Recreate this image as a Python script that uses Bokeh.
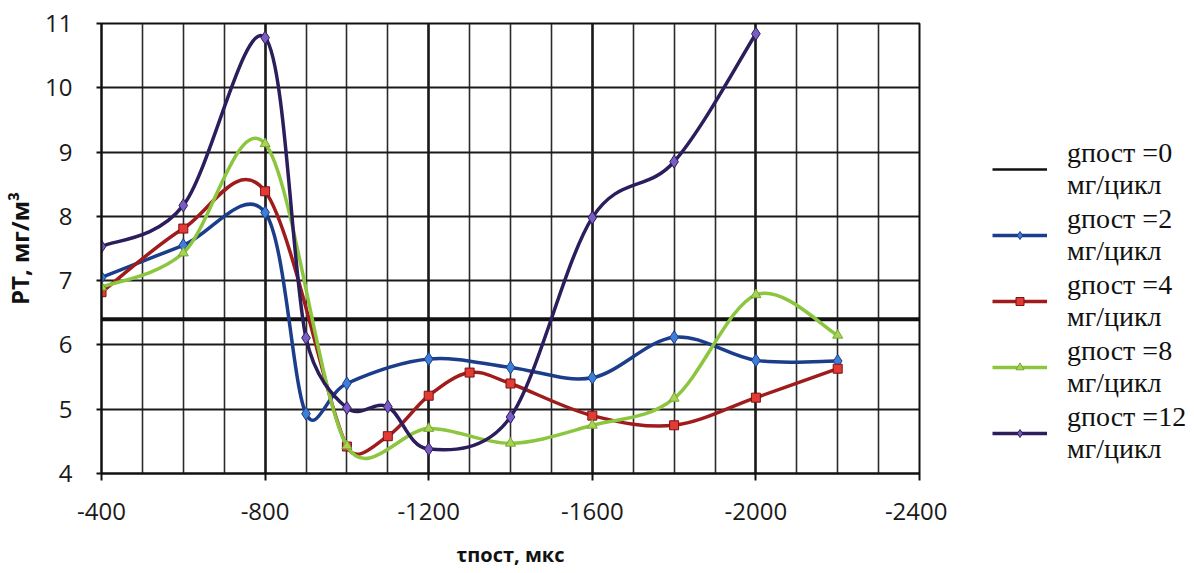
import numpy as np
from bokeh.plotting import figure
from bokeh.layouts import row
from bokeh.models import Range1d, FixedTicker, Legend, LegendItem, ColumnDataSource
from bokeh.embed import file_html
from bokeh.resources import INLINE

# ---- data ----
x_g0 = [-400, -2400]
y_g0 = [6.4, 6.4]

x_g2 = [-400, -600, -800, -900, -1000, -1200, -1400, -1600, -1800, -2000, -2200]
y_g2 = [7.05, 7.55, 8.06, 4.93, 5.40, 5.78, 5.65, 5.49, 6.12, 5.76, 5.75]

x_g4 = [-400, -600, -800, -1000, -1100, -1200, -1300, -1400, -1600, -1800, -2000, -2200]
y_g4 = [6.82, 7.81, 8.39, 4.42, 4.58, 5.21, 5.57, 5.40, 4.90, 4.75, 5.18, 5.63]

x_g8 = [-400, -600, -800, -1000, -1200, -1400, -1600, -1800, -2000, -2200]
y_g8 = [6.90, 7.43, 9.13, 4.43, 4.70, 4.47, 4.75, 5.17, 6.78, 6.15]

x_g12 = [-400, -600, -800, -900, -1000, -1100, -1200, -1400, -1600, -1800, -2000]
y_g12 = [7.53, 8.17, 10.78, 6.11, 5.02, 5.04, 4.38, 4.88, 7.98, 8.85, 10.84]

labels = ["gпост =0\nмг/цикл", "gпост =2\nмг/цикл", "gпост =4\nмг/цикл",
          "gпост =8\nмг/цикл", "gпост =12\nмг/цикл"]
x_ticks = [-400, -800, -1200, -1600, -2000, -2400]
x_minor = list(range(-400, -2401, -100))
y_ticks = [4, 5, 6, 7, 8, 9, 10, 11]

# ---- layout geometry ----
H = 573
W_MAIN, W_LEG = 947, 247
FL, FT, FR, FB = 97, 23, 28, 100
FW, FH = W_MAIN - FL - FR, H - FT - FB
XMIN, XMAX, YMIN, YMAX = -400, -2400, 4, 11
SX = FW / abs(XMAX - XMIN)                # px per x unit
SY = FH / (YMAX - YMIN)                   # px per y unit


def smooth_source(xs, ys):
    """Excel-style smoothed line: cubic Bezier segments with Catmull-Rom
    control points (1/6 of the chord), limited to half the segment length."""
    n = len(xs)
    px = [x * SX for x in xs]
    py = [y * SY for y in ys]

    def ctrl(j, k, seg):
        tx, ty = (px[k] - px[j]) / 6.0, (py[k] - py[j]) / 6.0
        L = (tx * tx + ty * ty) ** 0.5
        lim = 0.5 * seg
        if L > lim and L > 0:
            tx, ty = tx * lim / L, ty * lim / L
        return tx, ty

    d = dict(x0=[], y0=[], x1=[], y1=[], cx0=[], cy0=[], cx1=[], cy1=[])
    for i in range(n - 1):
        a = i - 1 if i > 0 else i
        b = i + 2 if i + 2 < n else i + 1
        seg = ((px[i + 1] - px[i]) ** 2 + (py[i + 1] - py[i]) ** 2) ** 0.5
        t0x, t0y = ctrl(a, i + 1, seg)
        t1x, t1y = ctrl(i, b, seg)
        d["x0"].append(xs[i]); d["y0"].append(ys[i])
        d["x1"].append(xs[i + 1]); d["y1"].append(ys[i + 1])
        d["cx0"].append((px[i] + t0x) / SX); d["cy0"].append((py[i] + t0y) / SY)
        d["cx1"].append((px[i + 1] - t1x) / SX); d["cy1"].append((py[i + 1] - t1y) / SY)
    return ColumnDataSource(d)


p = figure(width=W_MAIN, height=H, output_backend="svg", toolbar_location=None,
           x_range=Range1d(XMIN, XMAX), y_range=Range1d(YMIN, YMAX),
           min_border_left=FL, min_border_top=FT, min_border_right=FR,
           min_border_bottom=FB)
p.background_fill_color = "white"
p.border_fill_color = "white"
p.outline_line_color = "#111111"
p.outline_line_width = 2

# axes
tick_font = "Open Sans"
p.xaxis.ticker = FixedTicker(ticks=x_ticks, minor_ticks=x_minor)
p.xaxis.major_label_overrides = {t: str(t) for t in x_ticks}
p.yaxis.ticker = FixedTicker(ticks=y_ticks)
for ax in (p.xaxis[0], p.yaxis[0]):
    ax.axis_line_color = "#111111"
    ax.axis_line_width = 2
    ax.major_tick_line_color = "#111111"
    ax.major_tick_line_width = 2
    ax.minor_tick_line_color = None
    ax.major_tick_in = 0
    ax.major_label_text_font = tick_font
    ax.major_label_text_font_size = "24px"
    ax.major_label_text_color = "#1a1a1a"
    ax.axis_label_text_font = tick_font
    ax.axis_label_text_font_style = "bold"
    ax.axis_label_text_color = "#111111"
p.xaxis.major_tick_out = 7
p.xaxis.major_label_standoff = 22
p.xaxis.axis_label = "τпост, мкс"
p.xaxis.axis_label_text_font_size = "20px"
p.xaxis.axis_label_standoff = 18
p.yaxis.major_tick_out = 5
p.yaxis.major_label_standoff = 24
p.yaxis.axis_label = "PT, мг/м³"
p.yaxis.axis_label_text_font_size = "24px"
p.yaxis.axis_label_standoff = 6

# grid
p.xgrid.grid_line_color = "#1a1a1a"
p.xgrid.grid_line_width = 2.5
p.xgrid.minor_grid_line_color = "#2a2a2a"
p.xgrid.minor_grid_line_width = 1.6
p.ygrid.grid_line_color = "#1a1a1a"
p.ygrid.grid_line_width = 2

# ---- legend panel (separate figure; its copies of the series lie off-screen) ----
pl = figure(width=W_LEG, height=H, output_backend="svg", toolbar_location=None,
            x_range=Range1d(0, 1), y_range=Range1d(0, 1),
            x_axis_location=None, y_axis_location=None,
            min_border_left=0, min_border_right=0, min_border_top=0, min_border_bottom=0)
pl.grid.visible = False
pl.outline_line_color = None
pl.background_fill_color = "white"
pl.border_fill_color = "white"

# series
p.line(x_g0, y_g0, line_color="#111111", line_width=4)
l0 = pl.line(x_g0, y_g0, line_color="#111111", line_width=2.5)

series = [
    (x_g2, y_g2, "#1c3c8c", "diamond", 13, "#3d7fd6", "#1c3c8c"),
    (x_g4, y_g4, "#a01c1c", "square", 9, "#e23b35", "#7a1212"),
    (x_g8, y_g8, "#8cc63f", "triangle", 10, "#a9d356", "#78a832"),
    (x_g12, y_g12, "#2c1d5c", "diamond", 13, "#7b5cc2", "#2c1d5c"),
]
items = [LegendItem(label=labels[0], renderers=[l0])]
for (xs, ys, lc, mk, ms, fc, ec), lab in zip(series, labels[1:]):
    p.bezier("x0", "y0", "x1", "y1", "cx0", "cy0", "cx1", "cy1",
             source=smooth_source(xs, ys), line_color=lc, line_width=3.5)
    p.scatter(xs, ys, marker=mk, size=ms, fill_color=fc, line_color=ec, line_width=1)
    ll = pl.line(xs, ys, line_color=lc, line_width=3.5)
    ls = pl.scatter(xs, ys, marker=mk, size=ms - 2, fill_color=fc, line_color=ec, line_width=1)
    items.append(LegendItem(label=lab, renderers=[ll, ls]))

legend = Legend(items=items, location=(45, 8))
legend.label_text_font = "Liberation Serif"
legend.label_text_font_size = "28px"
legend.label_text_line_height = 1.15
legend.label_text_color = "#111111"
legend.glyph_width = 55
legend.glyph_height = 20
legend.label_standoff = 20
legend.spacing = 2
legend.padding = 8
legend.margin = 0
legend.border_line_color = None
legend.background_fill_alpha = 0
pl.add_layout(legend, "center")

open("out.html", "w").write(file_html(row(p, pl), INLINE))
